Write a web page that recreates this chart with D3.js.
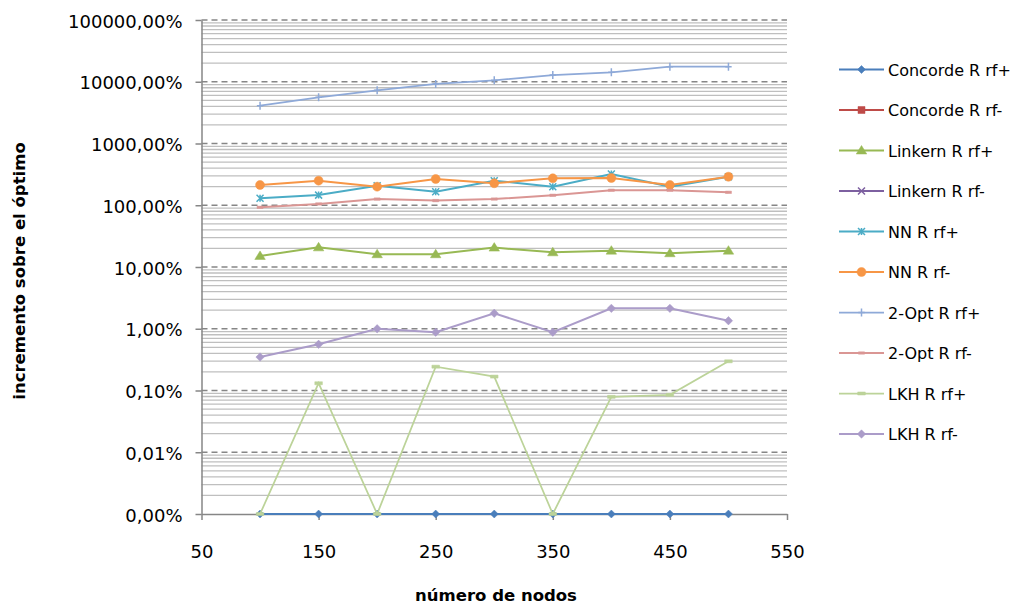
<!DOCTYPE html>
<html>
<head>
<meta charset="utf-8">
<script src="https://cdn.jsdelivr.net/npm/d3@7"></script>
<style>
  body { margin: 0; background: #fff; }
  text { font-family: "DejaVu Sans", sans-serif; fill: #000; }
</style>
</head>
<body>
<script>
// número de nodos (eje x)
const nodos = [100, 150, 200, 250, 300, 350, 400, 450, 500];

// incremento sobre el óptimo, en %  (0,001 = valor 0, dibujado en el suelo del eje)
const concordeRfMas   = [0.001, 0.001, 0.001, 0.001, 0.001, 0.001, 0.001, 0.001, 0.001];
const concordeRfMenos = [null, null, null, null, null, null, null, null, null];
const linkernRfMas    = [15.1, 20.8, 16.1, 16.1, 20.6, 17.3, 18.4, 16.7, 18.4];
const linkernRfMenos  = [null, null, null, null, null, null, null, null, null];
const nnRfMas         = [130, 146, 207, 166, 250, 200, 321, 200, 290];
const nnRfMenos       = [213, 250, 200, 266, 227, 273, 276, 213, 290];
const optRfMas        = [4090, 5600, 7270, 9200, 10550, 12860, 14230, 17530, 17530];
const optRfMenos      = [92.6, 105, 126, 119, 126, 145, 175, 175, 162];
const lkhRfMas        = [0.001, 0.131, 0.001, 0.243, 0.168, 0.001, 0.079, 0.085, 0.297];
const lkhRfMenos      = [0.348, 0.56, 1.00, 0.88, 1.78, 0.88, 2.14, 2.14, 1.35];

const xTicks = [50, 150, 250, 350, 450, 550];
const yTicks = [0.001, 0.01, 0.1, 1, 10, 100, 1000, 10000, 100000];

// custom marker glyphs
const diamondSq = { draw(c, r) { c.moveTo(0, -r); c.lineTo(r, 0); c.lineTo(0, r); c.lineTo(-r, 0); c.closePath(); } };
const triangle = { draw(c, r) { c.moveTo(0, -r); c.lineTo(r * 1.05, r * 0.7); c.lineTo(-r * 1.05, r * 0.7); c.closePath(); } };
const square = { draw(c, r) { c.rect(-r, -r, 2 * r, 2 * r); } };
const circle = { draw(c, r) { c.moveTo(r, 0); c.arc(0, 0, r, 0, 2 * Math.PI); } };
const dash = { draw(c, r) { c.rect(-r, -r * 0.4, 2 * r, r * 0.8); } };
const cross = { draw(c, r) { c.moveTo(-r, -r); c.lineTo(r, r); c.moveTo(r, -r); c.lineTo(-r, r); } };
const star = { draw(c, r) { c.moveTo(-r, -r); c.lineTo(r, r); c.moveTo(r, -r); c.lineTo(-r, r); c.moveTo(0, -r); c.lineTo(0, r); } };
const plus = { draw(c, r) { c.moveTo(-r * 0.8, 0); c.lineTo(r * 0.8, 0); c.moveTo(0, -r); c.lineTo(0, r); } };

const series = [
  {name: "Concorde R rf+", values: concordeRfMas,   color: "#4A7EBB", sym: diamondSq, r: 4,   fill: true,  w: 2},
  {name: "Concorde R rf-", values: concordeRfMenos, color: "#BE4B48", sym: square,    r: 3.5, fill: true,  w: 2},
  {name: "Linkern R rf+",  values: linkernRfMas,    color: "#98B954", sym: triangle,  r: 5,   fill: true,  w: 2},
  {name: "Linkern R rf-",  values: linkernRfMenos,  color: "#7D60A0", sym: cross,     r: 3.5, fill: false, w: 2},
  {name: "NN R rf+",       values: nnRfMas,         color: "#4BACC6", sym: star,      r: 3.5, fill: false, w: 2},
  {name: "NN R rf-",       values: nnRfMenos,       color: "#F79646", sym: circle,    r: 4.5, fill: true,  w: 2},
  {name: "2-Opt R rf+",    values: optRfMas,        color: "#8EA9D8", sym: plus,      r: 4,   fill: false, w: 1.75},
  {name: "2-Opt R rf-",    values: optRfMenos,      color: "#DA9694", sym: dash,      r: 3,   fill: true,  w: 2},
  {name: "LKH R rf+",      values: lkhRfMas,        color: "#BCD399", sym: dash,      r: 3.8, fill: true,  w: 1.75},
  {name: "LKH R rf-",      values: lkhRfMenos,      color: "#AB9CC9", sym: diamondSq, r: 4.2, fill: true,  w: 2}
];

const width = 1023, height = 605;
const plot = {left: 201.5, right: 787, top: 20, bottom: 514};

const svg = d3.select("body").append("svg")
  .attr("width", width)
  .attr("height", height)
  .style("background", "#fff");

const x = d3.scaleLinear().domain([50, 550]).range([plot.left, plot.right]);
const y = d3.scaleLog().domain([0.001, 100000]).range([plot.bottom, plot.top]);

const locale = d3.formatLocale({decimal: ",", thousands: ".", grouping: [3], currency: ["", "€"]});
const fmt = locale.format(".2f");

// minor gridlines (2..9 of each decade)
const majors = new Set(yTicks.map(d => Math.round(Math.log10(d))));
const minors = y.ticks().filter(d => Math.abs(Math.log10(d) - Math.round(Math.log10(d))) > 1e-6);

svg.append("g").selectAll("line")
  .data(minors)
  .join("line")
  .attr("x1", plot.left).attr("x2", plot.right)
  .attr("y1", d => y(d)).attr("y2", d => y(d))
  .attr("stroke", "#bfbfbf")
  .attr("stroke-width", 1.3);

svg.append("g").selectAll("line")
  .data(yTicks.slice(1))
  .join("line")
  .attr("x1", plot.left).attr("x2", plot.right)
  .attr("y1", d => y(d)).attr("y2", d => y(d))
  .attr("stroke", "#868686")
  .attr("stroke-width", 1.5)
  .attr("stroke-dasharray", "6,4");

// axes
const yAxis = svg.append("g")
  .attr("transform", "translate(" + plot.left + ",0)")
  .call(d3.axisLeft(y).tickValues(yTicks).tickSize(6).tickSizeOuter(0).tickPadding(13)
    .tickFormat(d => fmt(d) + "%"));

const xAxis = svg.append("g")
  .attr("transform", "translate(0," + plot.bottom + ")")
  .call(d3.axisBottom(x).tickValues(xTicks).tickSize(6).tickSizeOuter(0).tickPadding(25));

[yAxis, xAxis].forEach(g => {
  g.select(".domain").attr("stroke", "#868686").attr("stroke-width", 1.5);
  g.selectAll(".tick line").attr("stroke", "#868686").attr("stroke-width", 1.5);
  g.selectAll(".tick text").style("font-family", "DejaVu Sans").style("font-size", "18px").attr("fill", "#000");
});
yAxis.selectAll(".tick text").attr("dy", "0.4em");

// series
const line = d3.line()
  .defined(d => d.v != null)
  .x(d => x(d.n))
  .y(d => y(d.v));

series.forEach(s => {
  const pts = nodos.map((n, i) => ({n: n, v: s.values[i]}));
  const g = svg.append("g");
  g.append("path")
    .datum(pts)
    .attr("d", line)
    .attr("fill", "none")
    .attr("stroke", s.color)
    .attr("stroke-width", s.w);
  g.selectAll("path.m")
    .data(pts.filter(d => d.v != null))
    .join("path")
    .attr("class", "m")
    .attr("transform", d => "translate(" + x(d.n) + "," + y(d.v) + ")")
    .attr("d", d3.symbol().type(s.sym).size(s.r))
    .attr("fill", s.fill ? s.color : "none")
    .attr("stroke", s.color)
    .attr("stroke-width", s.fill ? 0.5 : 1.5);
});

// legend
const legend = svg.append("g").attr("transform", "translate(839,69.5)");
const item = legend.selectAll("g")
  .data(series)
  .join("g")
  .attr("transform", (d, i) => "translate(0," + (i * 40.5) + ")");

item.append("line")
  .attr("x1", 0).attr("x2", 45)
  .attr("stroke", d => d.color)
  .attr("stroke-width", d => d.w);

item.append("path")
  .attr("transform", "translate(22.5,0)")
  .attr("d", d => d3.symbol().type(d.sym).size(d.r)())
  .attr("fill", d => d.fill ? d.color : "none")
  .attr("stroke", d => d.color)
  .attr("stroke-width", d => d.fill ? 0.5 : 1.5);

item.append("text")
  .attr("x", 49)
  .attr("y", 6)
  .style("font-size", "16px")
  .text(d => d.name);

// axis titles
svg.append("text")
  .attr("transform", "translate(25,271) rotate(-90)")
  .attr("text-anchor", "middle")
  .style("font-size", "16.5px")
  .style("font-weight", "bold")
  .text("incremento sobre el óptimo");

svg.append("text")
  .attr("x", 496)
  .attr("y", 601)
  .attr("text-anchor", "middle")
  .style("font-size", "16.5px")
  .style("font-weight", "bold")
  .text("número de nodos");
</script>
</body>
</html>
